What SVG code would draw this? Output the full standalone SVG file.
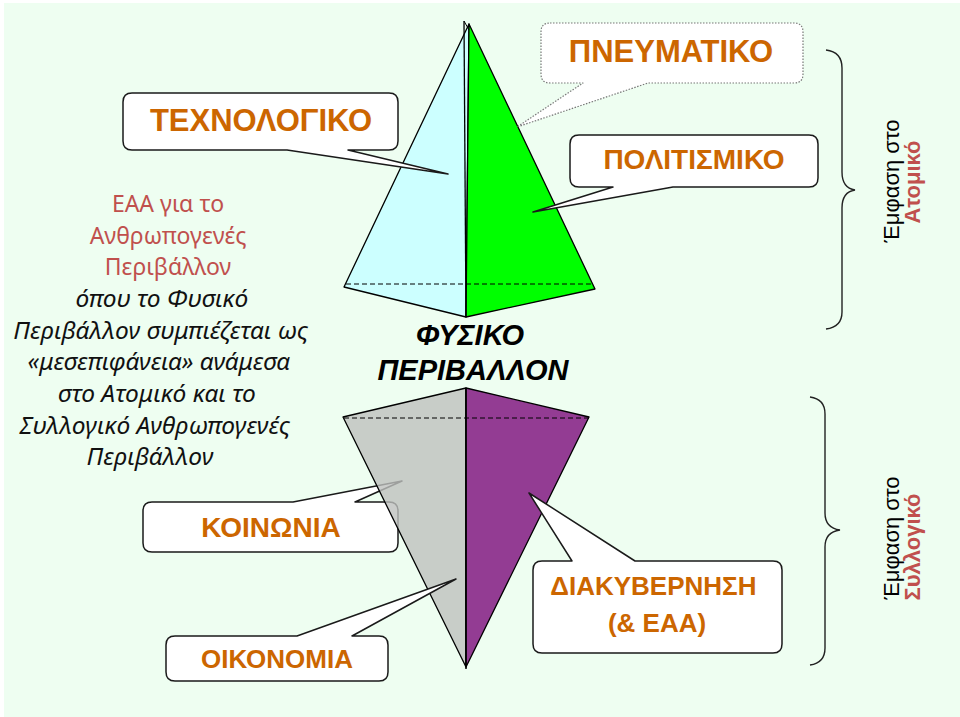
<svg xmlns="http://www.w3.org/2000/svg" width="960" height="717" viewBox="0 0 960 717">
<style>
.co{fill:#FFFFFF;stroke:#1a1a1a;stroke-width:1.5;stroke-linejoin:round}
.cod{fill:#FFFFFF;stroke:#777777;stroke-width:1.2;stroke-dasharray:1.5 1.5;stroke-linejoin:round}
.lbl{font-family:"Liberation Sans",Arial,sans-serif;font-weight:bold;fill:#CC6600;text-anchor:middle}
.face{stroke:#000000;stroke-width:1.3;stroke-linejoin:round}
.dash{stroke:#000000;stroke-width:1;stroke-dasharray:5 3;fill:none}
.red{font-family:"Noto Sans","Open Sans",sans-serif;fill:#C0504D;font-size:23px;text-anchor:middle}
.blk{font-family:"Noto Sans","Open Sans",sans-serif;fill:#111111;font-size:24.5px;font-style:italic;text-anchor:middle}
.rot{font-family:"Liberation Sans",Arial,sans-serif;font-size:22px;text-anchor:middle;fill:#000000}
.rotr{font-family:"Liberation Sans",Arial,sans-serif;font-size:22px;font-weight:bold;text-anchor:middle;fill:#C0504D}
.brace{fill:none;stroke:#222222;stroke-width:1.4}
</style>
<rect x="0" y="0" width="960" height="717" fill="#FFFFFF"/>
<rect x="4" y="3" width="956" height="714" fill="#EEFEF1"/>

<g id="upper-pyramid">
  <polygon class="face" points="344,287 469,24 466,317" fill="#CCFFFF"/>
  <polygon class="face" points="469,24 595,289 466,317" fill="#00FF00"/>
  <line x1="464" y1="21" x2="466" y2="317" stroke="#000" stroke-width="1.3"/>
  <line x1="464" y1="21" x2="469" y2="30" stroke="#000" stroke-width="1"/>
  <line class="dash" x1="346" y1="284" x2="594" y2="284"/>
</g>

<g id="koinonia">
  <path class="co" d="M152,502 H293 L402,481 L355,502 H389 Q398,502 398,511 V543 Q398,552 389,552 H152 Q143,552 143,543 V511 Q143,502 152,502 Z"/>
  <text class="lbl" x="271" y="537" font-size="28">ΚΟΙΝΩΝΙΑ</text>
</g>

<g id="lower-pyramid">
  <polygon class="face" points="343,417 466,388 466,667" fill="#BEC0BE" fill-opacity="0.8"/>
  <polygon class="face" points="466,388 589,417 466,667" fill="#933C93"/>
  <line x1="466" y1="388" x2="466" y2="669" stroke="#000" stroke-width="1.5"/>
  <line class="dash" x1="344" y1="418" x2="592" y2="418"/>
</g>

<g id="fysiko">
  <text font-family="Liberation Sans,Arial,sans-serif" font-weight="bold" font-style="italic" font-size="29" text-anchor="middle" fill="#000">
    <tspan x="474" y="345">ΦΥΣΙΚΟ</tspan>
    <tspan x="473" y="380">ΠΕΡΙΒΑΛΛΟΝ</tspan>
  </text>
</g>

<g id="technologiko">
  <path class="co" d="M132,93 H389 Q398,93 398,102 V141 Q398,150 389,150 H348 L448,174 L287,150 H132 Q123,150 123,141 V102 Q123,93 132,93 Z"/>
  <text class="lbl" x="261" y="131" font-size="31">ΤΕΧΝΟΛΟΓΙΚΟ</text>
</g>

<g id="pnevmatiko">
  <path class="cod" d="M550,23 H794 Q803,23 803,32 V74 Q803,83 794,83 H648 L517,127 L583,83 H550 Q541,83 541,74 V32 Q541,23 550,23 Z"/>
  <text class="lbl" x="671" y="62" font-size="31">ΠΝΕΥΜΑΤΙΚΟ</text>
</g>

<g id="politismiko">
  <path class="co" d="M579,135 H809 Q818,135 818,144 V178 Q818,187 809,187 H673 L533,212 L613,187 H579 Q570,187 570,178 V144 Q570,135 579,135 Z"/>
  <text class="lbl" x="694" y="169" font-size="28">ΠΟΛΙΤΙΣΜΙΚΟ</text>
</g>

<g id="oikonomia">
  <path class="co" d="M175,636 H297 L456,579 L352,636 H379 Q388,636 388,645 V672 Q388,681 379,681 H175 Q166,681 166,672 V645 Q166,636 175,636 Z"/>
  <text class="lbl" x="277" y="668" font-size="26">ΟΙΚΟΝΟΜΙΑ</text>
</g>

<g id="diakyvernisi">
  <path class="co" d="M542,561 H572 L529,493 L635,561 H773 Q782,561 782,570 V644 Q782,653 773,653 H542 Q533,653 533,644 V570 Q533,561 542,561 Z"/>
  <text class="lbl" font-size="26">
    <tspan x="657" y="595">ΔΙΑΚΥΒΕΡΝΗΣΗ</tspan>
    <tspan x="657" y="632">(&amp; ΕΑΑ)</tspan>
  </text>
</g>

<g id="left-text">
  <text class="red">
    <tspan x="171" y="212">ΕΑΑ για το</tspan>
    <tspan x="171" y="244">Ανθρωπογενές</tspan>
    <tspan x="168" y="275">Περιβάλλον</tspan>
  </text>
  <text class="blk">
    <tspan x="165" y="307">όπου το Φυσικό</tspan>
    <tspan x="164" y="339">Περιβάλλον συμπιέζεται ως</tspan>
    <tspan x="162" y="370">«μεσεπιφάνεια» ανάμεσα</tspan>
    <tspan x="160" y="402">στο Ατομικό και το</tspan>
    <tspan x="158" y="434">Συλλογικό Ανθρωπογενές</tspan>
    <tspan x="150" y="465">Περιβάλλον</tspan>
  </text>
</g>

<g id="connectors">
  <path class="brace" d="M826,50 Q842,52 842,68 V172 Q842,188 855,190 Q842,192 842,208 V312 Q842,327 826,329"/>
  <path class="brace" d="M810,397 Q825,399 825,414 V513 Q825,528 840,530 Q825,532 825,547 V648 Q825,663 810,665"/>
</g>

<g id="emfasi-atomiko">
  <text class="rot" transform="translate(899,181) rotate(-90)">Έμφαση στο</text>
  <text class="rotr" transform="translate(920,182) rotate(-90)">Ατομικό</text>
</g>
<g id="emfasi-syllogiko">
  <text class="rot" transform="translate(899,538) rotate(-90)">Έμφαση στο</text>
  <text class="rotr" transform="translate(920,547) rotate(-90)">Συλλογικό</text>
</g>
</svg>
